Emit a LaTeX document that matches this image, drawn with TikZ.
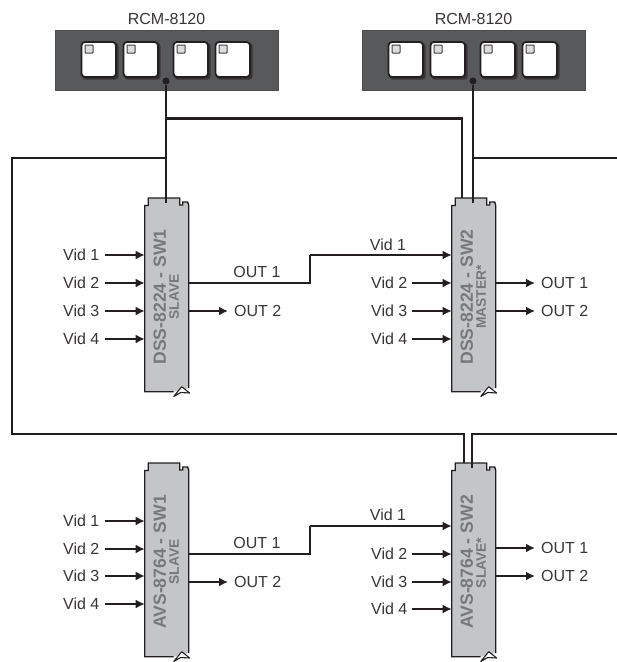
\documentclass[tikz,border=0pt]{standalone}
\usepackage{fontspec}
\setmainfont{Liberation Sans}
\usetikzlibrary{arrows.meta}
\definecolor{panelgrey}{HTML}{58595B}
\definecolor{modfill}{HTML}{C4C5C7}
\definecolor{modtext}{HTML}{77787B}
\definecolor{ink}{HTML}{231F20}
\definecolor{ledgrey}{HTML}{DCDDDE}
\tikzset{
  lbl/.style={inner sep=0pt,font=\fontsize{16}{16}\selectfont,text=ink!90!white},
  bus/.style={draw=ink,line width=2.7pt},
  sig/.style={draw=ink,line width=1.8pt},
  sigarrow/.style={sig,-{Latex[length=9pt,width=9pt]}},
  panelbox/.style={draw=ink!80!white,line width=1.1pt,fill=panelgrey,minimum width=223pt,minimum height=60.5pt,inner sep=0pt},
  modbody/.style={minimum width=44pt,minimum height=185pt,inner sep=0pt},
  modtitle/.style={rotate=90,inner sep=0pt,text=modtext,font=\bfseries\fontsize{17.6}{17.6}\selectfont},
  modrole/.style={rotate=90,inner sep=0pt,text=modtext,font=\bfseries\fontsize{13.8}{13.8}\selectfont},
  portdot/.style={circle,fill=ink,inner sep=0pt,minimum size=7pt},
}
% \keycap{x}{y}
\newcommand{\keycap}[2]{%
  \fill[ink!90!white,rounded corners=3pt] (#1+1,#2+1) rectangle ++(36,36.5);
  \draw[ink,fill=white,line width=1.8pt,rounded corners=3.5pt] (#1,#2) rectangle ++(34.5,35);
  \draw[ink!85!white,fill=ledgrey,line width=1pt,rounded corners=.6pt] (#1+3.5,#2+3) rectangle ++(8,8);
}
% \rcmpanel{name}{left x}
\newcommand{\rcmpanel}[2]{%
  \node[panelbox,anchor=north west] (#1) at (#2,29.5) {};
  \node[lbl,above=5pt] (#1t) at (#1.north) {RCM-8120};
  \keycap{#2+27}{42}\keycap{#2+69}{42}\keycap{#2+119}{42}\keycap{#2+161}{42}
  \node[portdot] (#1d) at (#2+111.5,81) {};
}
% \modulebox{name}{x}{y}{title}{role}{role y offset}
\newcommand{\modulebox}[6]{%
  \begin{scope}[shift={(#2,#3)}]
    \draw[ink,fill=modfill,line width=1.4pt,line join=miter]
      (29,193.7) -- (0,193.7) -- (0,7.5) -- (3.5,7.5) -- (3.5,0) -- (35,0) -- (35,7)
      -- (38,7) -- (38,4) -- (43,4) -- (44,7.5) -- (44,190);
    \draw[ink,fill=white,line width=1.1pt,line join=round]
      (29,198.5) -- (37,188.7) -- (45,195) -- (36,194.5) -- cycle;
    \node[modbody,anchor=north west] (#1) at (0,7.5) {};
    \node[modtitle] (#1t) at (15,99) {#4};
    \node[modrole] (#1r) at (29.3,99+#6) {#5};
  \end{scope}
}
\begin{document}
\begin{tikzpicture}[x=1pt,y=-1pt]
\useasboundingbox (0,0) rectangle (617,662);
\fill[white] (0,0) rectangle (617,662);

\rcmpanel{pa}{54.5}
\rcmpanel{pb}{361.5}

\modulebox{ma}{144.7}{198}{DSS-8224 - SW1}{SLAVE}{0}
\modulebox{mb}{451.7}{198}{DSS-8224 - SW2}{MASTER*}{0}
\modulebox{mc}{144.7}{463}{AVS-8764 - SW1}{SLAVE}{0}
\modulebox{md}{451.7}{463}{AVS-8764 - SW2}{SLAVE*}{1}

% free ends and bends of the bus
\coordinate (ja) at (pad |- 0,118.5);
\coordinate (jb) at (pad |- 0,158);
\coordinate (je) at (462,118.5);
\coordinate (jf) at (pbd |- 0,158);
\coordinate (rt) at (617,158);
\coordinate (lt) at (12,158);
\coordinate (lb) at (12,434);
\coordinate (lc) at (464,434);
\coordinate (rc) at (472,434);
\coordinate (rb) at (617,434);

\draw[bus] (pad) -- (pad |- 0,203);
\draw[bus] (pbd) -- (pbd |- 0,203);
\draw[bus,line join=miter] (ja) -- (je) -- (462,198);
\draw[bus,line join=miter] (jb) -- (lt) -- (lb) -- (lc) -- (464,463);
\draw[bus] (jf) -- (rt);
\draw[bus,line join=miter] (rb) -- (rc) -- (472,468);

% inputs
\foreach \m/\xl/\ya/\yb/\yc/\yd in {ma/63/255/283/311/339, mc/63/521/549/576/604}{
  \node[lbl,anchor=west] (\m v1) at (\xl,\ya) {Vid 1};
  \node[lbl,anchor=west] (\m v2) at (\xl,\yb) {Vid 2};
  \node[lbl,anchor=west] (\m v3) at (\xl,\yc) {Vid 3};
  \node[lbl,anchor=west] (\m v4) at (\xl,\yd) {Vid 4};
  \foreach \k in {1,2,3,4}
    \draw[sigarrow] ([xshift=5pt]\m v\k.east) -- (\m.west |- \m v\k);
}
\foreach \m/\xl/\yb/\yc/\yd in {mb/371/283/311/339, md/371/554/582/609}{
  \node[lbl,anchor=west] (\m v2) at (\xl,\yb) {Vid 2};
  \node[lbl,anchor=west] (\m v3) at (\xl,\yc) {Vid 3};
  \node[lbl,anchor=west] (\m v4) at (\xl,\yd) {Vid 4};
  \foreach \k in {2,3,4}
    \draw[sigarrow] ([xshift=4pt]\m v\k.east) -- (\m.west |- \m v\k);
}

% links between switchers
\node[lbl] (oa1) at (257,272) {OUT 1};
\node[lbl] (ib1) at (388,245) {Vid 1};
\coordinate (ka) at (310,283);
\coordinate (kb) at (310,255);
\draw[sig,line join=miter] (ma.east |- ka) -- (ka) -- (kb);
\draw[sigarrow] (kb) -- (mb.west |- kb);

\node[lbl] (oc1) at (257,543) {OUT 1};
\node[lbl] (id1) at (388,515) {Vid 1};
\coordinate (kc) at (310,554);
\coordinate (kd) at (310,526);
\draw[sig,line join=miter] (mc.east |- kc) -- (kc) -- (kd);
\draw[sigarrow] (kd) -- (md.west |- kd);

% outputs
\node[lbl,anchor=west] (oa2) at (234,311) {OUT 2};
\draw[sigarrow] (ma.east |- oa2) -- ([xshift=-6pt]oa2.west);
\node[lbl,anchor=west] (oc2) at (234,582) {OUT 2};
\draw[sigarrow] (mc.east |- oc2) -- ([xshift=-6pt]oc2.west);
\node[lbl,anchor=west] (ob1) at (541,283) {OUT 1};
\node[lbl,anchor=west] (ob2) at (541,311) {OUT 2};
\node[lbl,anchor=west] (od1) at (541,548) {OUT 1};
\node[lbl,anchor=west] (od2) at (541,576) {OUT 2};
\foreach \m/\o in {mb/ob1,mb/ob2,md/od1,md/od2}
  \draw[sigarrow] (\m.east |- \o) -- ([xshift=-6pt]\o.west);
\end{tikzpicture}
\end{document}
